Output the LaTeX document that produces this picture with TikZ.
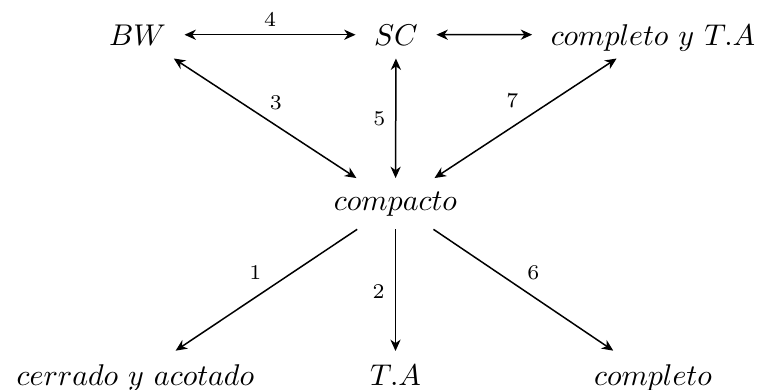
\documentclass[tikz,border=0pt]{standalone}
\usetikzlibrary{arrows.meta}
\begin{document}
\begin{tikzpicture}[x=0.3333pt,y=-0.3333pt,
  obj/.style={inner xsep=6.2pt, inner ysep=4.5pt, outer sep=0pt, anchor=base},
  biarrow/.style={{Stealth[length=3.8pt,width=3.4pt,inset=1.2pt]}-{Stealth[length=3.8pt,width=3.4pt,inset=1.2pt]}, line width=0.5pt},
  oneway/.style={-{Stealth[length=3.8pt,width=3.4pt,inset=1.2pt]}, line width=0.5pt},
  lab/.style={font=\scriptsize, inner sep=0pt, midway}]
\useasboundingbox (0,0) rectangle (760,390);
\node[obj] (bw) at (137.5,45) {$BW$};
\node[obj] (sc) at (396,45) {$SC$};
\node[obj, text depth=0pt] (cta) at (653,45) {$completo\ y\ T.A$};
\node[obj] (comp) at (395.5,210) {$compacto$};
\node[obj] (cya) at (135.5,385) {$cerrado\ y\ acotado$};
\node[obj] (ta) at (395.5,385) {$T.A$};
\node[obj] (cpl) at (653,385) {$completo$};
\draw[biarrow] (bw) -- node[lab, yshift=5.1pt] {4} (sc);
\draw[biarrow] (sc) -- (cta);
\draw[biarrow] (bw) -- node[lab, xshift=3.6pt, yshift=5.3pt] {3} (comp);
\draw[biarrow] (sc) -- node[lab, xshift=-5.5pt] {5} (comp);
\draw[biarrow] (cta) -- node[lab, xshift=-4.4pt, yshift=5.8pt] {7} (comp);
\draw[oneway] (comp) -- node[lab, xshift=-3.7pt, yshift=5.8pt] {1} (cya);
\draw[oneway] (comp) -- node[lab, xshift=-5.6pt, yshift=-0.6pt] {2} (ta);
\draw[oneway] (comp) -- node[lab, xshift=3.3pt, yshift=5.8pt] {6} (cpl);
\end{tikzpicture}
\end{document}
